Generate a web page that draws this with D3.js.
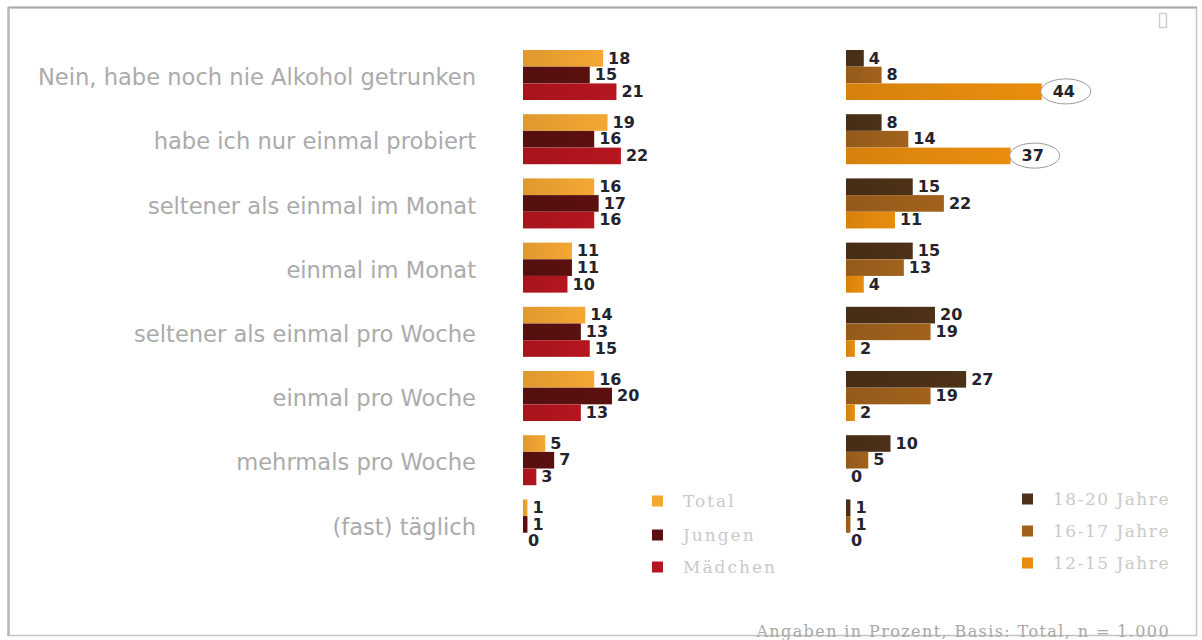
<!DOCTYPE html>
<html>
<head>
<meta charset="utf-8">
<script src="https://cdn.jsdelivr.net/npm/d3@7"></script>
<style>
  html, body { margin: 0; padding: 0; background: #fff; }
  svg { display: block; }
</style>
</head>
<body>
<svg id="chart" width="1202" height="640"></svg>
<script>
// Antworten auf die Frage nach dem Alkoholkonsum
const categories = [
  "Nein, habe noch nie Alkohol getrunken",
  "habe ich nur einmal probiert",
  "seltener als einmal im Monat",
  "einmal im Monat",
  "seltener als einmal pro Woche",
  "einmal pro Woche",
  "mehrmals pro Woche",
  "(fast) täglich"
];

// Geschlecht
const total    = [18, 19, 16, 11, 14, 16, 5, 1];
const jungen   = [15, 16, 17, 11, 13, 20, 7, 1];
const maedchen = [21, 22, 16, 10, 15, 13, 3, 0];

// Altersgruppen
const age18_20 = [4, 8, 15, 15, 20, 27, 10, 1];
const age16_17 = [8, 14, 22, 13, 19, 19, 5, 1];
const age12_15 = [44, 37, 11, 4, 2, 2, 0, 0];

const genderNames = ["Total", "Jungen", "Mädchen"];
const ageNames = ["18-20 Jahre", "16-17 Jahre", "12-15 Jahre"];
const highlighted = [[0, 2], [1, 2]]; // [Kategorie, Serie] im Altersblock, umkreist

const footnote = "Angaben in Prozent, Basis: Total, n = 1.000";

const genderColors = ["#f4a733", "#5c1010", "#b5161f"];
const ageColors = ["#4d3118", "#a2621c", "#ea8d0e"];

const svg = d3.select("#chart");

// Rahmen
svg.append("rect")
  .attr("x", 8.5).attr("y", 7.5).attr("width", 1188).attr("height", 628)
  .attr("fill", "none").attr("stroke", "#c4c4c4").attr("stroke-width", 1.5);
svg.append("line")
  .attr("x1", 8).attr("x2", 1197).attr("y1", 7.5).attr("y2", 7.5)
  .attr("stroke", "#a8a8a8").attr("stroke-width", 2);
svg.append("line")
  .attr("x1", 8.5).attr("x2", 8.5).attr("y1", 7).attr("y2", 636)
  .attr("stroke", "#b8b8b8").attr("stroke-width", 2.5);

// kleines Symbol oben rechts
svg.append("rect")
  .attr("x", 1159.5).attr("y", 13.5).attr("width", 7).attr("height", 14)
  .attr("fill", "none").attr("stroke", "#cfcfcf").attr("stroke-width", 1.5);

const step = 64.2, pad = 0.23;
const y = d3.scaleBand()
  .domain(categories)
  .range([50 - pad * step / 2, 50 - pad * step / 2 + step * categories.length])
  .paddingInner(pad).paddingOuter(pad / 2);

const ySub = d3.scaleBand()
  .domain([0, 1, 2])
  .range([0, y.bandwidth()])
  .paddingInner(0.04);

const unit = 4.45;
const xLeft = d3.scaleLinear().domain([0, 50]).range([523, 523 + 50 * unit]);
const xRight = d3.scaleLinear().domain([0, 50]).range([846, 846 + 50 * unit]);

const labelFont = "DejaVu Sans, Verdana, sans-serif";

// Kategorien
svg.append("g").selectAll("text")
  .data(categories).join("text")
  .attr("x", 476)
  .attr("y", d => y(d) + y.bandwidth() / 2 + 4)
  .attr("text-anchor", "end")
  .attr("dominant-baseline", "middle")
  .attr("font-family", labelFont)
  .attr("font-size", 22.6)
  .attr("fill", "#ababab")
  .text(d => d);

function drawBlock(x, seriesList, colors, gradId) {
  const defs = svg.append("defs");
  colors.forEach((c, i) => {
    const g = defs.append("linearGradient").attr("id", gradId + i)
      .attr("x1", "0").attr("x2", "1").attr("y1", "0").attr("y2", "0");
    g.append("stop").attr("offset", "0").attr("stop-color", d3.color(c).darker(0.25));
    g.append("stop").attr("offset", "1").attr("stop-color", c);
  });
  const g = svg.append("g");
  const rows = [];
  categories.forEach((cat, ci) => {
    seriesList.forEach((s, si) => rows.push({ cat, ci, si, v: s[ci] }));
  });
  g.selectAll("rect").data(rows).join("rect")
    .attr("x", x(0))
    .attr("y", d => y(d.cat) + ySub(d.si))
    .attr("width", d => x(d.v) - x(0))
    .attr("height", ySub.bandwidth() + 0.6)
    .attr("fill", d => `url(#${gradId}${d.si})`);
  g.selectAll("text").data(rows).join("text")
    .attr("x", d => x(d.v) + 5)
    .attr("y", d => y(d.cat) + ySub(d.si) + ySub.bandwidth() / 2 + 1)
    .attr("dominant-baseline", "middle")
    .attr("font-family", labelFont)
    .attr("font-weight", "bold")
    .attr("font-size", 16)
    .attr("fill", "#23232b")
    .text(d => d.v);
  return g;
}

drawBlock(xLeft, [total, jungen, maedchen], genderColors, "gg");
const ageG = drawBlock(xRight, [age18_20, age16_17, age12_15], ageColors, "ag");

// Originalbeschriftungen der umkreisten Werte entfernen
ageG.selectAll("text").filter(function(d) {
  return d && highlighted.some(([ci, si]) => ci === d.ci && si === d.si);
}).remove();

// Umkreiste Werte
highlighted.forEach(([ci, si]) => {
  const v = [age18_20, age16_17, age12_15][si][ci];
  const cx = xRight(v) + 24;
  const cy = y(categories[ci]) + ySub(si) + ySub.bandwidth() / 2;
  ageG.append("ellipse")
    .attr("cx", cx).attr("cy", cy).attr("rx", 25).attr("ry", 12.5)
    .attr("fill", "#fff").attr("stroke", "#9a9a9a").attr("stroke-width", 1);
  ageG.append("text")
    .attr("x", cx - 2).attr("y", cy + 1)
    .attr("text-anchor", "middle")
    .attr("dominant-baseline", "middle")
    .attr("font-family", labelFont)
    .attr("font-weight", "bold")
    .attr("font-size", 16)
    .attr("fill", "#23232b")
    .text(v);
});

// Legenden
function legend(x0, ys, names, colors, spacing) {
  const g = svg.append("g");
  names.forEach((n, i) => {
    g.append("rect")
      .attr("x", x0).attr("y", ys[i] - 5.5).attr("width", 11).attr("height", 11)
      .attr("fill", colors[i]);
    g.append("text")
      .attr("x", x0 + 31).attr("y", ys[i] + 1)
      .attr("dominant-baseline", "middle")
      .attr("font-family", "DejaVu Serif, Liberation Serif, serif")
      .attr("font-size", 17)
      .attr("letter-spacing", spacing)
      .attr("fill", "#cacaca")
      .text(n);
  });
}
legend(652, [501, 535, 567], genderNames, genderColors, 2);
legend(1022, [499, 531, 563], ageNames, ageColors, 1.5);

// Fußnote
svg.append("text")
  .attr("x", 1170).attr("y", 632)
  .attr("text-anchor", "end")
  .attr("dominant-baseline", "middle")
  .attr("font-family", "DejaVu Serif, Liberation Serif, serif")
  .attr("font-size", 16)
  .attr("letter-spacing", 1.4)
  .attr("fill", "#a8a8a8")
  .text(footnote);
</script>
</body>
</html>
